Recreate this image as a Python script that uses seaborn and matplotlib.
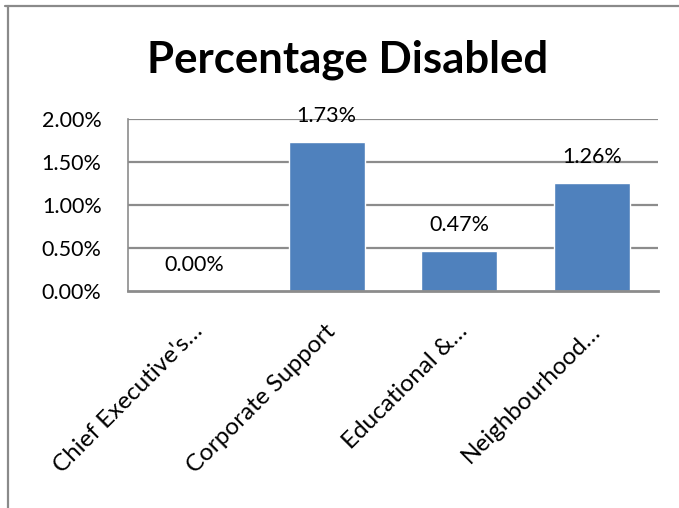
import matplotlib
matplotlib.use("Agg")
import matplotlib.pyplot as plt
from matplotlib.lines import Line2D
from matplotlib.transforms import ScaledTranslation
from matplotlib.ticker import FuncFormatter
import seaborn as sns
import pandas as pd

# Share of staff recorded as disabled, by directorate (%)
directorates = ["Chief Executive's…", "Corporate Support", "Educational &…", "Neighbourhood…"]
pct_disabled = [0.00, 1.73, 0.47, 1.26]
y_ticks = [0.0, 0.5, 1.0, 1.5, 2.0]

title_text = "Percentage Disabled"
bar_color = "#4F81BD"
grid_color = "#8C8C8C"

sns.set_theme(style="white")
plt.rcParams["font.family"] = ["Lato", "DejaVu Sans"]

W, H, DPI = 679, 508, 100
fig = plt.figure(figsize=(W / DPI, H / DPI), dpi=DPI)
fig.patch.set_facecolor("white")

# plot area in pixel coordinates: left 128, right 658, top 119, bottom 291
ax = fig.add_axes([128 / W, 1 - 291 / H, (658 - 128) / W, (291 - 119) / H])

df = pd.DataFrame({"directorate": directorates, "pct": pct_disabled})
sns.barplot(data=df, x="directorate", y="pct", color=bar_color, saturation=1,
            width=0.57, ax=ax, zorder=3)

ax.set_ylim(0, 2.0)
ax.set_xlim(-0.5, len(directorates) - 0.5)
ax.set_yticks(y_ticks)
ax.yaxis.set_major_formatter(FuncFormatter(lambda v, _: f"{v:.2f}%"))
ax.set_xlabel("")
ax.set_ylabel("")

# horizontal gridlines
ax.grid(False)
for v in y_ticks[1:]:
    ax.axhline(v, color=grid_color, lw=1.6, zorder=1)

for side in ["top", "right"]:
    ax.spines[side].set_visible(False)
ax.spines["left"].set_color(grid_color)
ax.spines["left"].set_linewidth(1.2)
ax.spines["bottom"].set_color(grid_color)
ax.spines["bottom"].set_linewidth(2.0)
ax.spines["bottom"].set_zorder(4)

ax.tick_params(axis="y", length=0, pad=19, labelsize=15.5, labelcolor="black")
ax.tick_params(axis="x", length=0, pad=0, labelsize=17.5, labelcolor="black")

# rotated category labels ending just right of each category centre
ax.set_xticks(range(len(directorates)))
ax.set_xticklabels(directorates)
offset = ScaledTranslation(5 / DPI, -37 / DPI, fig.dpi_scale_trans)
for lab in ax.get_xticklabels():
    lab.set_rotation(45)
    lab.set_ha("right")
    lab.set_va("center")
    lab.set_rotation_mode("anchor")
    lab.set_transform(lab.get_transform() + offset)

# value labels above each bar
for i, v in enumerate(pct_disabled):
    ax.annotate(f"{v:.2f}%", xy=(i, v), xytext=(0, 14.4), textcoords="offset points",
                ha="center", va="baseline", fontsize=15.5, color="black", zorder=5,
                annotation_clip=False)

# chart title
fig.text(348 / W, 1 - 73 / H, title_text, ha="center", va="baseline",
         fontsize=31.5, fontweight="bold", color="black")

# chart frame (top and left edges)
fig.add_artist(Line2D([5 / W, 1.0], [1 - 6 / H, 1 - 6 / H], color="#8A8A8A", lw=1.6,
                      transform=fig.transFigure))
fig.add_artist(Line2D([8 / W, 8 / W], [1 - 6 / H, 0.0], color="#8A8A8A", lw=1.6,
                      transform=fig.transFigure))

fig.savefig("out.png", dpi=DPI, facecolor="white")
